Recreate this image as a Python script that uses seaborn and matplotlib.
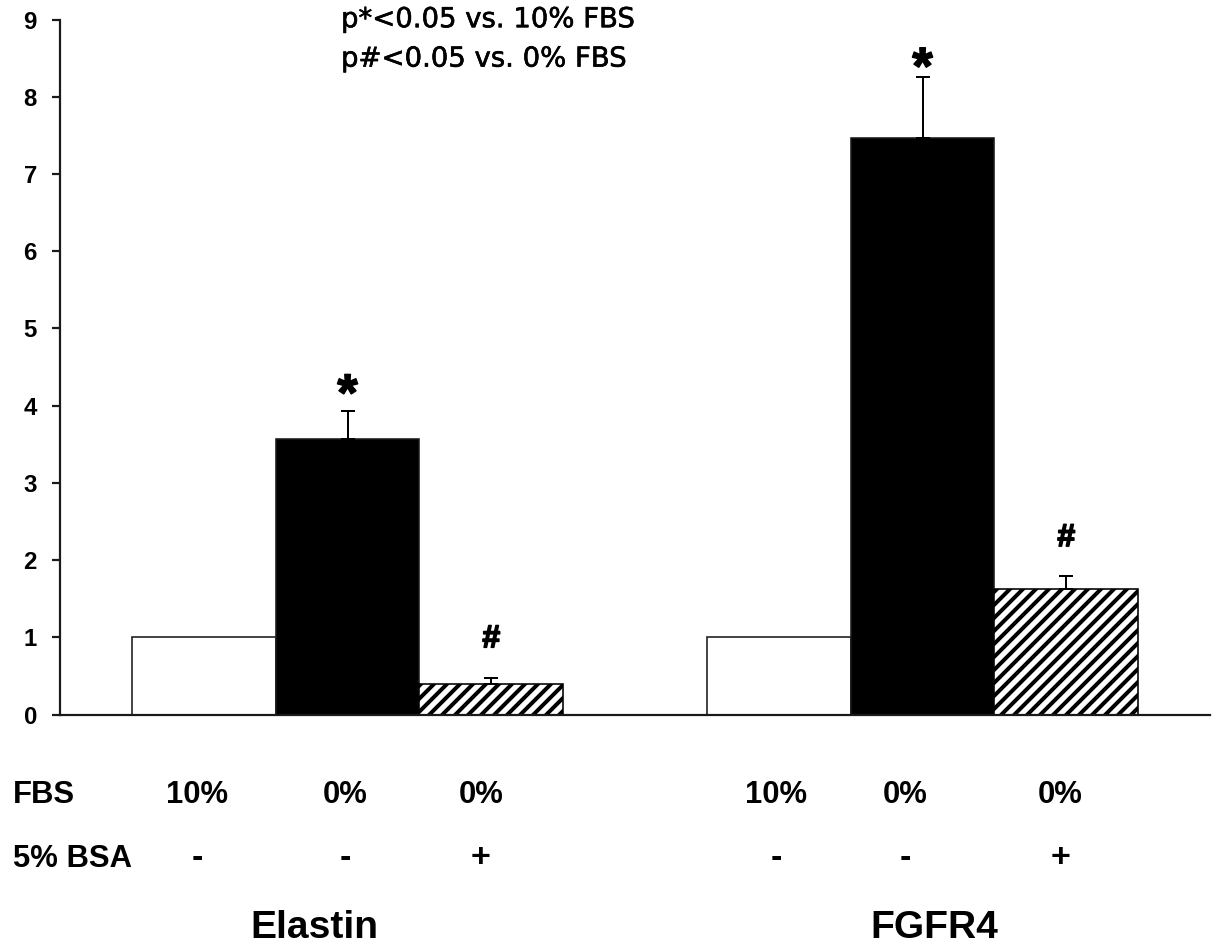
import numpy as np
import pandas as pd
import matplotlib
matplotlib.use("Agg")
import matplotlib.pyplot as plt
import matplotlib.patheffects as pe
import seaborn as sns

# ---------------- data ----------------
genes = ["Elastin", "FGFR4"]
conditions = ["10% FBS", "0% FBS", "0% FBS + 5% BSA"]
fbs_labels = ["10%", "0%", "0%"]
bsa_labels = ["-", "-", "+"]
elastin_vals = [1.0, 3.57, 0.39]
elastin_err = [0.0, 0.36, 0.08]
fgfr4_vals = [1.0, 7.47, 1.63]
fgfr4_err = [0.0, 0.78, 0.17]
yticks = [0, 1, 2, 3, 4, 5, 6, 7, 8, 9]
legend_lines = ["p*<0.05 vs. 10% FBS", "p#<0.05 vs. 0% FBS"]
star_base = [3.94, 8.17]   # baseline heights of "*" marks
hash_base = [0.87, 2.18]   # baseline heights of "#" marks

# ---------------- layout helpers ----------------
DPI = 78
PX = 72.0 / DPI  # points per pixel

sns.set_style("ticks")
plt.rcParams["font.family"] = ["Liberation Sans", "DejaVu Sans"]
plt.rcParams["text.color"] = "black"
plt.rcParams["hatch.linewidth"] = 4.0 * PX
plt.rcParams["hatch.color"] = "black"

rows = []
for gi, (g, vals, errs) in enumerate([(genes[0], elastin_vals, elastin_err),
                                       (genes[1], fgfr4_vals, fgfr4_err)]):
    for ci, c in enumerate(conditions):
        rows.append({"gene": g, "condition": c, "pos": gi * 4 + ci,
                     "value": vals[ci], "err": errs[ci]})
df = pd.DataFrame(rows)

fig = plt.figure(figsize=(1217 / DPI, 947 / DPI), dpi=DPI)
ax = fig.add_axes([60 / 1217, 232.5 / 947, 1150 / 1217, 695 / 947])

sns.barplot(data=df, x="pos", y="value", hue="condition", hue_order=conditions,
            palette=["white", "black", "white"], native_scale=True, dodge=False,
            width=1.0, errorbar=None, edgecolor="#1a1a1a", linewidth=1.6 * PX,
            legend=False, ax=ax)

for p in ax.patches:
    cx = p.get_x() + p.get_width() / 2
    match = df[np.isclose(df["pos"], cx)]
    if len(match) and match["condition"].iloc[0] == conditions[2]:
        p.set_hatch("//")
        p.set_edgecolor("black")

# upper error bars
has_err = df[df["err"] > 0]
ax.errorbar(has_err["pos"], has_err["value"],
            yerr=[np.zeros(len(has_err)), has_err["err"]],
            fmt="none", ecolor="black", elinewidth=2.0 * PX,
            capsize=7 * PX, capthick=2.0 * PX, zorder=3)

# significance marks
heavy = [pe.withStroke(linewidth=1.6 * PX, foreground="black")]
black_pos = df[df["condition"] == conditions[1]]["pos"].tolist()
hatch_pos = df[df["condition"] == conditions[2]]["pos"].tolist()
for x, yb in zip(black_pos, star_base):
    ax.text(x, yb, "*", ha="center", va="baseline", fontsize=52 * PX,
            fontweight="bold", color="black", path_effects=heavy)
for x, yb in zip(hatch_pos, hash_base):
    ax.text(x, yb, "#", ha="center", va="baseline", fontsize=32 * PX,
            fontweight="bold", color="black", path_effects=heavy)

# legend-like text at top
for yb, line in zip([8.90, 8.39], legend_lines):
    ax.text(0.955, yb, line, ha="left", va="baseline",
            fontsize=27.5 * PX, family=["DejaVu Sans"], color="black",
            path_effects=[pe.withStroke(linewidth=0.6 * PX, foreground="black")])

# axes styling
ax.set_xlim(-1.0, 7.0)
ax.set_ylim(0, 9)
ax.set_yticks(yticks)
ax.set_yticklabels([str(t) for t in yticks], fontsize=24 * PX, fontweight="bold")
ax.set_xticks([])
ax.set_xlabel("")
ax.set_ylabel("")
sns.despine(ax=ax)
for s in ["left", "bottom"]:
    ax.spines[s].set_linewidth(2.2 * PX)
    ax.spines[s].set_color("#1a1a1a")
ax.tick_params(axis="y", direction="out", length=8 * PX, width=2.2 * PX,
               pad=15 * PX, color="#1a1a1a", labelcolor="black")

# condition table below
label_x = [-0.047, 0.983, 1.929, 3.981, 4.878, 5.957]
row_fs = 31 * PX
ax.text(-1.327, -1.146, "FBS", ha="left", va="baseline", fontsize=row_fs,
        fontweight="bold", clip_on=False)
ax.text(-1.327, -1.975, "5% BSA", ha="left", va="baseline", fontsize=row_fs,
        fontweight="bold", clip_on=False)
for i, x in enumerate(label_x):
    ax.text(x, -1.146, fbs_labels[i % 3], ha="center", va="baseline",
            fontsize=row_fs, fontweight="bold", clip_on=False)
    ax.text(x, -1.975, bsa_labels[i % 3], ha="center", va="baseline",
            fontsize=row_fs * 1.1, fontweight="bold", clip_on=False)

gene_x = [0.767, 5.083]
for x, g in zip(gene_x, genes):
    ax.text(x, -2.895, g, ha="center", va="baseline", fontsize=39 * PX,
            fontweight="bold", clip_on=False)

fig.savefig("out.png", dpi=DPI, facecolor="white")
